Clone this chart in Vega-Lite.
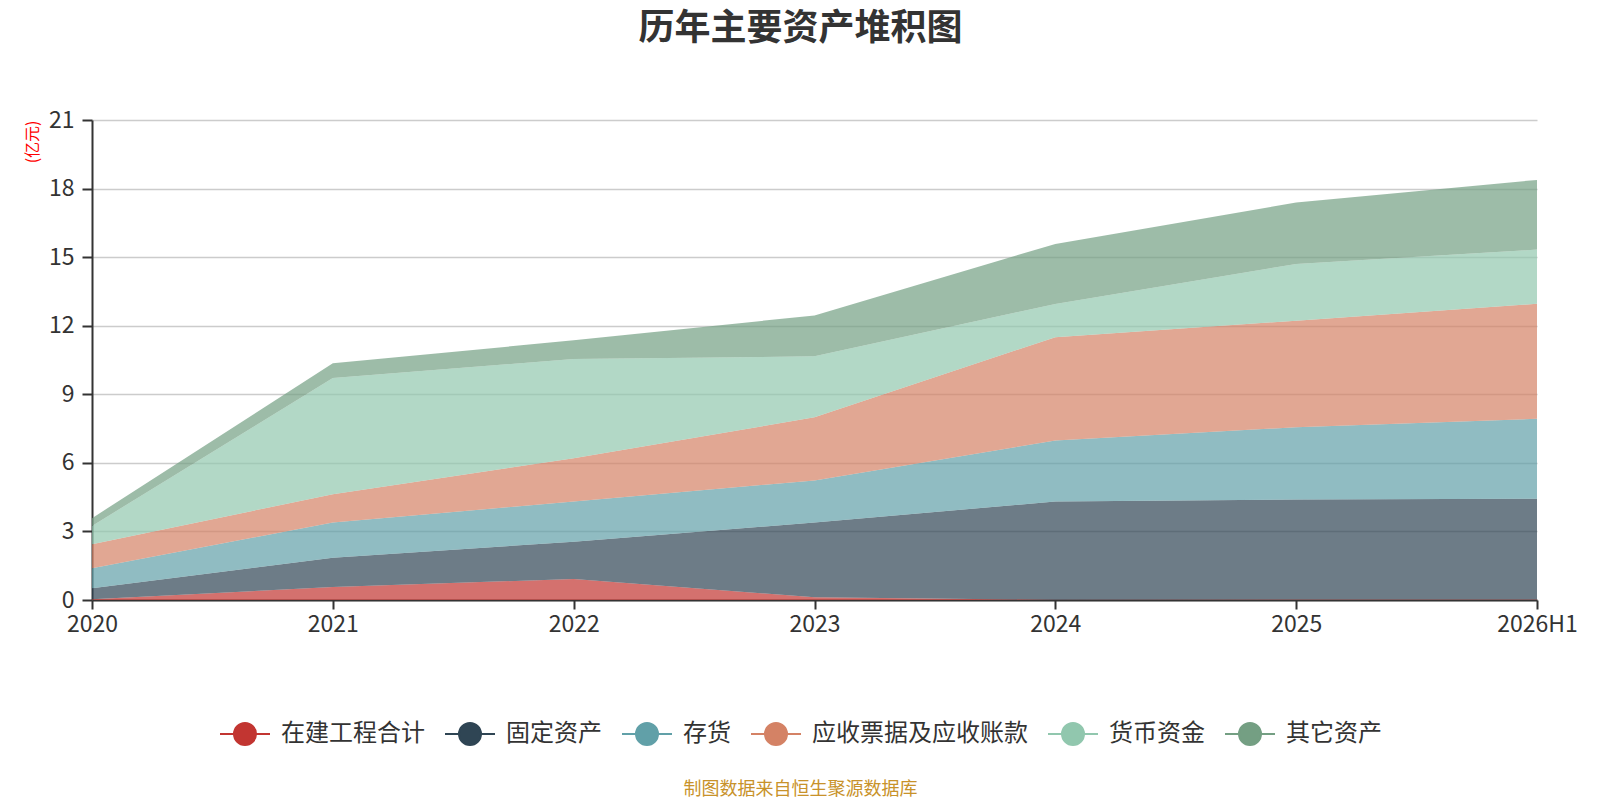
{
  "$schema": "https://vega.github.io/schema/vega-lite/v6.json",
  "width": 1445,
  "height": 480,
  "autosize": "none",
  "padding": {"left": 92, "top": 120, "right": 63, "bottom": 200},
  "background": "white",
  "view": {"stroke": null},
  "config": {"font": "Noto Sans CJK SC"},
  "title": {
    "text": "历年主要资产堆积图",
    "fontSize": 36,
    "fontWeight": "bold",
    "color": "#333333",
    "anchor": "middle",
    "dx": -14,
    "offset": 61
  },
  "data": {
    "values": [
      {"year": "2020", "series": "在建工程合计", "value": 0.03},
      {"year": "2020", "series": "固定资产", "value": 0.48},
      {"year": "2020", "series": "存货", "value": 0.88},
      {"year": "2020", "series": "应收票据及应收账款", "value": 1.05},
      {"year": "2020", "series": "货币资金", "value": 0.80},
      {"year": "2020", "series": "其它资产", "value": 0.34},
      {"year": "2021", "series": "在建工程合计", "value": 0.57},
      {"year": "2021", "series": "固定资产", "value": 1.28},
      {"year": "2021", "series": "存货", "value": 1.54},
      {"year": "2021", "series": "应收票据及应收账款", "value": 1.24},
      {"year": "2021", "series": "货币资金", "value": 5.08},
      {"year": "2021", "series": "其它资产", "value": 0.65},
      {"year": "2022", "series": "在建工程合计", "value": 0.92},
      {"year": "2022", "series": "固定资产", "value": 1.63},
      {"year": "2022", "series": "存货", "value": 1.76},
      {"year": "2022", "series": "应收票据及应收账款", "value": 1.89},
      {"year": "2022", "series": "货币资金", "value": 4.34},
      {"year": "2022", "series": "其它资产", "value": 0.82},
      {"year": "2023", "series": "在建工程合计", "value": 0.12},
      {"year": "2023", "series": "固定资产", "value": 3.27},
      {"year": "2023", "series": "存货", "value": 1.84},
      {"year": "2023", "series": "应收票据及应收账款", "value": 2.76},
      {"year": "2023", "series": "货币资金", "value": 2.67},
      {"year": "2023", "series": "其它资产", "value": 1.79},
      {"year": "2024", "series": "在建工程合计", "value": 0.01},
      {"year": "2024", "series": "固定资产", "value": 4.30},
      {"year": "2024", "series": "存货", "value": 2.67},
      {"year": "2024", "series": "应收票据及应收账款", "value": 4.52},
      {"year": "2024", "series": "货币资金", "value": 1.45},
      {"year": "2024", "series": "其它资产", "value": 2.63},
      {"year": "2025", "series": "在建工程合计", "value": 0.02},
      {"year": "2025", "series": "固定资产", "value": 4.38},
      {"year": "2025", "series": "存货", "value": 3.16},
      {"year": "2025", "series": "应收票据及应收账款", "value": 4.66},
      {"year": "2025", "series": "货币资金", "value": 2.48},
      {"year": "2025", "series": "其它资产", "value": 2.69},
      {"year": "2026H1", "series": "在建工程合计", "value": 0.02},
      {"year": "2026H1", "series": "固定资产", "value": 4.41},
      {"year": "2026H1", "series": "存货", "value": 3.50},
      {"year": "2026H1", "series": "应收票据及应收账款", "value": 5.03},
      {"year": "2026H1", "series": "货币资金", "value": 2.37},
      {"year": "2026H1", "series": "其它资产", "value": 3.05}
    ]
  },
  "transform": [
    {"calculate": "indexof(['在建工程合计','固定资产','存货','应收票据及应收账款','货币资金','其它资产'], datum.series)", "as": "k"}
  ],
  "mark": {"type": "area", "opacity": 0.7, "line": false},
  "encoding": {
    "x": {
      "field": "year",
      "type": "ordinal",
      "scale": {"type": "point", "padding": 0},
      "axis": {
        "labelAngle": 0,
        "labelFontSize": 23,
        "labelColor": "#333333",
        "labelPadding": 4,
        "domainColor": "#333333",
        "domainWidth": 2,
        "tickColor": "#333333",
        "tickWidth": 2,
        "tickSize": 9,
        "grid": false,
        "title": "制图数据来自恒生聚源数据库",
        "titleColor": "#c8922a",
        "titleFontSize": 18,
        "titleFontWeight": "normal",
        "titleX": 708,
        "titleY": 189,
        "titleAlign": "center",
        "titleBaseline": "middle"
      }
    },
    "y": {
      "field": "value",
      "type": "quantitative",
      "stack": "zero",
      "scale": {"domain": [0, 21], "nice": false},
      "axis": {
        "values": [0, 3, 6, 9, 12, 15, 18, 21],
        "labelFontSize": 23,
        "labelColor": "#333333",
        "labelPadding": 8,
        "domainColor": "#333333",
        "domainWidth": 2,
        "tickColor": "#333333",
        "tickWidth": 2,
        "tickSize": 10,
        "gridColor": "#cccccc",
        "gridWidth": 1.5,
        "title": "(亿元)",
        "titleColor": "#ff0000",
        "titleFontSize": 16,
        "titleFontWeight": "normal",
        "titleAngle": -90,
        "titleX": -60,
        "titleY": 0,
        "titleAlign": "right",
        "titleBaseline": "middle"
      }
    },
    "color": {
      "field": "series",
      "type": "nominal",
      "scale": {
        "domain": ["在建工程合计", "固定资产", "存货", "应收票据及应收账款", "货币资金", "其它资产"],
        "range": ["#c23531", "#2f4554", "#61a0a8", "#d48265", "#91c7ae", "#749f83"]
      },
      "legend": {
        "title": null,
        "orient": "none",
        "direction": "horizontal",
        "legendX": 127,
        "legendY": 588,
        "symbolType": "M-1,0L1,0M0.44,0A0.44,0.44,0,1,1,-0.44,0A0.44,0.44,0,1,1,0.44,0Z",
        "symbolSize": 2500,
        "symbolOpacity": 1,
        "symbolStrokeWidth": 2,
        "labelFontSize": 24,
        "labelColor": "#333333",
        "labelLimit": 0,
        "labelOffset": 10,
        "columnPadding": 16,
        "encode": {
          "symbols": {
            "update": {
              "stroke": {"scale": "color", "field": "value"},
              "fill": {"scale": "color", "field": "value"},
              "strokeWidth": {"value": 2},
              "opacity": {"value": 1}
            }
          }
        }
      }
    },
    "order": {"field": "k", "type": "quantitative", "sort": "ascending"}
  }
}
